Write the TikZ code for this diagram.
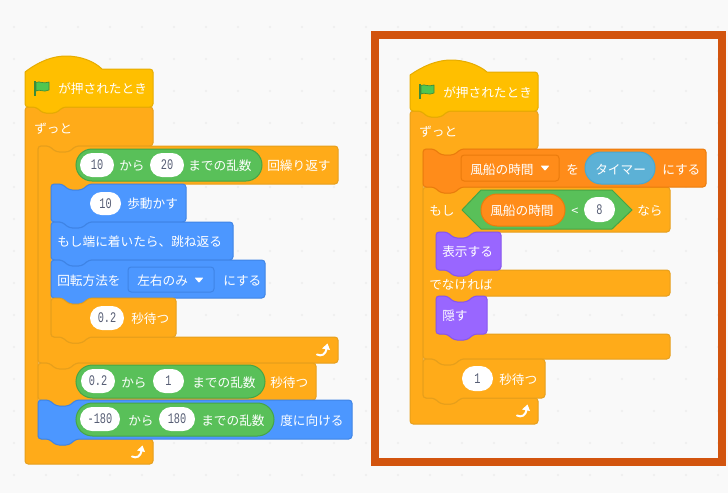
\documentclass[tikz,border=0pt]{standalone}
\usepackage{fontspec}
\usetikzlibrary{shapes.misc}
\setmainfont{Noto Sans CJK JP}
\newfontfamily\numf[FakeStretch=0.70]{Liberation Mono}
\definecolor{bgc}{HTML}{F9F9F9}
\definecolor{dotc}{HTML}{EEEEEE}
\definecolor{framec}{HTML}{D2540E}
\definecolor{hatc}{HTML}{FFBF00}\definecolor{hatd}{HTML}{E6AC00}
\definecolor{ctlc}{HTML}{FFAB19}\definecolor{ctld}{HTML}{E69F1C}
\definecolor{motc}{HTML}{4C97FF}\definecolor{motd}{HTML}{3F84E5}
\definecolor{opc}{HTML}{59C059}\definecolor{opd}{HTML}{46A546}
\definecolor{lookc}{HTML}{9966FF}\definecolor{lookd}{HTML}{8855EE}
\definecolor{varc}{HTML}{FF8C1A}\definecolor{vard}{HTML}{EB7B0C}
\definecolor{senc}{HTML}{5CB1D6}\definecolor{send}{HTML}{47A8D1}
\definecolor{numc}{HTML}{575E75}
\tikzset{
  x=0.75pt,y=-0.75pt,
  blockbase/.style={line width=0.75pt,rounded corners=2.4pt,line join=round},
  hatb/.style={blockbase,fill=hatc,draw=hatd},
  ctlb/.style={blockbase,fill=ctlc,draw=ctld},
  motb/.style={blockbase,fill=motc,draw=motd},
  lookb/.style={blockbase,fill=lookc,draw=lookd},
  varb/.style={blockbase,fill=varc,draw=vard},
  boolb/.style={line width=0.75pt,line join=round,fill=opc,draw=opd},
  lbl/.style={text=white,anchor=base west,inner sep=0pt,font=\fontsize{9.5pt}{11pt}\selectfont},
  pillbase/.style={rounded rectangle,inner sep=0pt,line width=0.75pt},
  numpill/.style={pillbase,fill=white,text=numc,font=\numf\fontsize{11pt}{11pt}\selectfont},
  oppill/.style={pillbase,fill=opc,draw=opd},
  varpill/.style={pillbase,fill=varc,draw=vard},
  senpill/.style={pillbase,fill=senc,draw=send},
  dropm/.style={rectangle,rounded corners=2.4pt,inner sep=0pt,line width=0.75pt,fill=motc,draw=motd},
  dropv/.style={rectangle,rounded corners=2.4pt,inner sep=0pt,line width=0.75pt,fill=varc,draw=vard},
  flagf/.style={fill=opc!90!green,draw=opd!85!black,line width=0.5pt,line join=round},
}
\newcommand\nR[2]{-- (#1+11,#2) -- (#1+18,#2+6) -- (#1+31,#2+6) -- (#1+38,#2)}
\newcommand\nL[2]{-- (#1+38,#2) -- (#1+31,#2+6) -- (#1+18,#2+6) -- (#1+11,#2)}
\newcommand\stm[5]{\draw[#1] (#2,#3) \nR{#2}{#3} -- (#4,#3) -- (#4,#5) \nL{#2}{#5} -- (#2,#5) -- cycle;}
\newcommand\pillat[7]{\node[#2,minimum width={(#4-#3)*0.75pt},minimum height={(#6-#5)*0.75pt}] (#1) at ({(#3+#4)/2},{(#5+#6)/2}) {#7};}
\newcommand\lab[4]{\node[lbl] (#1) at (#2,#3+5.5) {#4};}
\newcommand\tri[2]{\fill[white,rounded corners=0.5pt] (#1-4.5,#2-2.5) -- (#1+4.5,#2-2.5) -- (#1,#2+2.8) -- cycle;}
\newcommand\hatblk[5]{%
  \draw[hatb] (#1,#2+3) [sharp corners] .. controls (#1+13,#5+6) and (#1+27,#5) .. (#1+41,#5)
    .. controls (#1+55,#5) and (#1+69,#5+5) .. (#1+77,#2) [rounded corners=2.4pt] -- (#3,#2) -- (#3,#4) \nL{#1}{#4} -- (#1,#4) -- (#1,#2+3);}
\newcommand\flag[2]{%
  \fill[opd!85!black] (#1,#2) rectangle (#1+2,#2+15);
  \draw[flagf] (#1+2,#2+1.5) .. controls (#1+6,#2-0.5) and (#1+9,#2+3.5) .. (#1+15,#2+1)
    -- (#1+15,#2+9) .. controls (#1+9,#2+12) and (#1+6,#2+7.5) .. (#1+2,#2+10) -- cycle;}
\newcommand\loopmark[2]{%
  \draw[white,line width=1.5pt,line cap=round] (#1-6,#2+4.5) .. controls (#1-2,#2+6.5) and (#1+3,#2+5) .. (#1+3.5,#2-2);
  \fill[white,line join=round] (#1-1,#2-1.5) -- (#1+4.5,#2-6.5) -- (#1+7,#2) -- cycle;}
\begin{document}
\begin{tikzpicture}
\useasboundingbox (0,0) rectangle (728,493);
\fill[bgc] (0,0) rectangle (728,493);
\foreach \i in {0,...,22} \foreach \j in {0,...,14}
  \fill[dotc] (14+32*\i,27+32*\j) circle[radius=1.2];
\draw[framec,line width=6pt] (375,35) rectangle (722,462);

%% ---------- left stack
\draw[ctlb] (25,107) \nR{25}{107} -- (153,107) -- (153,146) \nL{38}{146} -- (38,146)
  -- (38,439) \nR{38}{439} -- (153,439) -- (153,464) -- (25,464) -- cycle;
\hatblk{25}{69}{153}{107}{56}
\flag{34}{81}
\lab{a1}{58}{88}{が押されたとき}
\lab{a2}{34}{128}{ずっと}

\draw[ctlb] (38,146) \nR{38}{146} -- (338,146) -- (338,184) \nL{51}{184} -- (51,184)
  -- (51,337) \nR{51}{337} -- (338,337) -- (338,363) \nL{38}{363} -- (38,363) -- cycle;
\pillat{g1}{oppill}{76}{262}{149}{181}{}
\pillat{a3}{numpill}{80}{114}{153}{177}{10}
\lab{a4}{119}{165}{から}
\pillat{a5}{numpill}{150}{184}{153}{177}{20}
\lab{a6}{188}{165}{までの乱数}
\lab{a7}{267}{165}{回繰り返す}

\stm{motb}{51}{184}{186}{222}
\pillat{a8}{numpill}{90}{121}{192}{215}{10}
\lab{a9}{127}{203}{歩動かす}
\stm{motb}{51}{222}{233}{260}
\lab{a10}{57}{241}{もし端に着いたら、跳ね返る}
\stm{motb}{51}{260}{265}{298}
\lab{a11}{57}{280}{回転方法を}
\pillat{d1}{dropm}{128}{214}{267}{292}{}
\lab{a12}{137}{280}{左右のみ}
\tri{199}{280}
\lab{a13}{223}{280}{にする}
\stm{ctlb}{51}{298}{176}{337}
\pillat{a14}{numpill}{90}{124}{306}{330}{0.2}
\lab{a15}{131}{318}{秒待つ}
\loopmark{323}{350}

\stm{ctlb}{38}{363}{316}{400}
\pillat{g2}{oppill}{76}{265}{365}{398}{}
\pillat{a16}{numpill}{81}{115}{369}{393}{0.2}
\lab{a17}{121}{382}{から}
\pillat{a18}{numpill}{153}{184}{369}{393}{1}
\lab{a19}{192}{382}{までの乱数}
\lab{a20}{270}{382}{秒待つ}

\stm{motb}{38}{400}{352}{439}
\pillat{g3}{oppill}{76}{274}{403}{436}{}
\pillat{a21}{numpill}{80}{120}{407}{431}{-180}
\lab{a22}{128}{420}{から}
\pillat{a23}{numpill}{159}{195}{407}{431}{180}
\lab{a24}{201}{420}{までの乱数}
\lab{a25}{280}{420}{度に向ける}
\loopmark{138}{452}

%% ---------- right stack
\draw[ctlb] (410,111) \nR{410}{111} -- (538,111) -- (538,149) \nL{423}{149} -- (423,149)
  -- (423,398) \nR{423}{398} -- (538,398) -- (538,424) -- (410,424) -- cycle;
\hatblk{410}{72}{538}{111}{60}
\flag{419}{84}
\lab{b1}{443}{92}{が押されたとき}
\lab{b2}{419}{131}{ずっと}

\draw[ctlb] (423,187) \nR{423}{187} -- (670,187) -- (670,232) \nL{436}{232} -- (436,232)
  -- (436,270) \nR{436}{270} -- (670,270) -- (670,296) \nL{436}{296} -- (436,296)
  -- (436,334) \nR{436}{334} -- (670,334) -- (670,359) \nL{423}{359} -- (423,359) -- cycle;
\stm{varb}{423}{149}{706}{187}
\pillat{d2}{dropv}{461}{559}{155}{181}{}
\lab{b3}{470}{169}{風船の時間}
\tri{545}{168}
\lab{b4}{566}{169}{を}
\pillat{b5}{senpill}{585}{655}{152}{184}{}
\lab{b6}{595}{169}{タイマー}
\lab{b7}{662}{169}{にする}

\lab{b8}{429}{210}{もし}
\draw[boolb] (462,210) -- (481,190) -- (612,190) -- (632,210) -- (612,229) -- (481,229) -- cycle;
\pillat{b9}{varpill}{481}{565}{194}{226}{}
\lab{b10}{490}{210}{風船の時間}
\lab{b11}{571}{210}{<}
\pillat{b12}{numpill}{584}{615}{197}{222}{8}
\lab{b13}{637}{210}{なら}

\stm{lookb}{436}{232}{501}{270}
\lab{b14}{442}{251}{表示する}
\lab{b15}{429}{284}{でなければ}
\stm{lookb}{436}{296}{487}{334}
\lab{b16}{442}{315}{隠す}
\stm{ctlb}{423}{359}{545}{398}
\pillat{b17}{numpill}{462}{493}{366}{391}{1}
\lab{b18}{499}{379}{秒待つ}
\loopmark{523}{411}
\end{tikzpicture}
\end{document}
